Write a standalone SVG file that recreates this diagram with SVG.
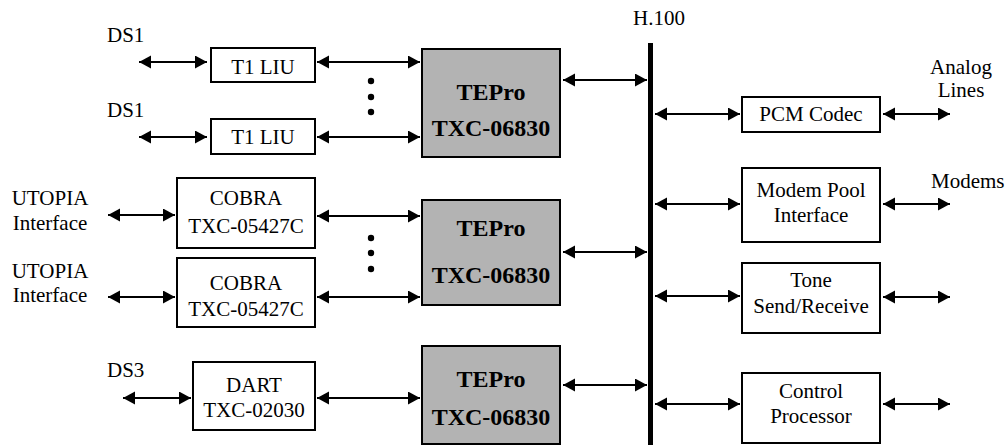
<svg xmlns="http://www.w3.org/2000/svg" width="1007" height="445" viewBox="0 0 1007 445">
<style>
.box{fill:#fff;stroke:#000;stroke-width:2}
.chip{fill:#b3b3b3;stroke:#000;stroke-width:2}
text{font-family:"Liberation Serif","Times New Roman",serif;font-size:21px;fill:#000}
.c{text-anchor:middle}
.b{font-weight:bold;font-size:24px}
.ln{stroke:#000;stroke-width:2;fill:none;marker-start:url(#ah);marker-end:url(#ah)}
</style>
<defs>
<marker id="ah" markerUnits="userSpaceOnUse" markerWidth="14" markerHeight="14" refX="12" refY="6.5" orient="auto-start-reverse">
<path d="M0,0 L12,6.5 L0,13 z" fill="#000"/>
</marker>
</defs>
<rect width="1007" height="445" fill="#fff"/>
<g id="labels">
<text x="107" y="42">DS1</text>
<text x="107" y="117">DS1</text>
<text x="50" y="205" class="c">UTOPIA</text>
<text x="50" y="230" class="c">Interface</text>
<text x="50" y="278" class="c">UTOPIA</text>
<text x="50" y="302" class="c">Interface</text>
<text x="107" y="377">DS3</text>
<text x="659" y="25" class="c">H.100</text>
<text x="961" y="74" class="c">Analog</text>
<text x="961" y="97" class="c">Lines</text>
<text x="931" y="188">Modems</text>
</g>
<g id="bus"><rect x="648" y="43" width="5" height="402" fill="#000"/></g>
<g id="t1liu1"><rect class="box" x="211" y="48" width="104" height="34"/><text class="c" x="263" y="74">T1 LIU</text></g>
<g id="t1liu2"><rect class="box" x="211" y="119" width="104" height="35"/><text class="c" x="263" y="144">T1 LIU</text></g>
<g id="cobra1"><rect class="box" x="177" y="178" width="138" height="70"/><text class="c" x="246" y="205">COBRA</text><text class="c" x="246" y="233">TXC-05427C</text></g>
<g id="cobra2"><rect class="box" x="177" y="258" width="138" height="69"/><text class="c" x="246" y="290">COBRA</text><text class="c" x="246" y="316">TXC-05427C</text></g>
<g id="dart"><rect class="box" x="193" y="362" width="122" height="68"/><text class="c" x="254" y="392">DART</text><text class="c" x="254" y="417">TXC-02030</text></g>
<g id="tepro1"><rect class="chip" x="422" y="49" width="138" height="108"/><text class="c b" x="491" y="100">TEPro</text><text class="c b" x="491" y="136">TXC-06830</text></g>
<g id="tepro2"><rect class="chip" x="422" y="200" width="138" height="105"/><text class="c b" x="491" y="236">TEPro</text><text class="c b" x="491" y="283">TXC-06830</text></g>
<g id="tepro3"><rect class="chip" x="422" y="346" width="138" height="98"/><text class="c b" x="491" y="387">TEPro</text><text class="c b" x="491" y="425">TXC-06830</text></g>
<g id="pcm"><rect class="box" x="742" y="97" width="138" height="35"/><text class="c" x="811" y="121">PCM Codec</text></g>
<g id="modem"><rect class="box" x="742" y="168" width="138" height="74"/><text class="c" x="811" y="197">Modem Pool</text><text class="c" x="811" y="222">Interface</text></g>
<g id="tone"><rect class="box" x="742" y="263" width="138" height="70"/><text class="c" x="811" y="287">Tone</text><text class="c" x="811" y="313">Send/Receive</text></g>
<g id="control"><rect class="box" x="742" y="373" width="138" height="70"/><text class="c" x="811" y="398">Control</text><text class="c" x="811" y="423">Processor</text></g>
<g id="dots" fill="#000">
<circle cx="371" cy="81" r="3.2"/><circle cx="371" cy="97" r="3.2"/><circle cx="371" cy="112" r="3.2"/>
<circle cx="371" cy="238" r="3.2"/><circle cx="371" cy="253" r="3.2"/><circle cx="371" cy="269" r="3.2"/>
</g>
<g id="connectors">
<line class="ln" x1="139" y1="62" x2="207" y2="62"/>
<line class="ln" x1="317" y1="62" x2="420" y2="62"/>
<line class="ln" x1="139" y1="137" x2="207" y2="137"/>
<line class="ln" x1="317" y1="137" x2="420" y2="137"/>
<line class="ln" x1="108" y1="215" x2="175" y2="215"/>
<line class="ln" x1="317" y1="216" x2="420" y2="216"/>
<line class="ln" x1="108" y1="297" x2="175" y2="297"/>
<line class="ln" x1="317" y1="297" x2="420" y2="297"/>
<line class="ln" x1="123" y1="398" x2="191" y2="398"/>
<line class="ln" x1="317" y1="398" x2="420" y2="398"/>
<line class="ln" x1="563" y1="80" x2="647" y2="80"/>
<line class="ln" x1="563" y1="252" x2="647" y2="252"/>
<line class="ln" x1="563" y1="385" x2="647" y2="385"/>
<line class="ln" x1="655" y1="114" x2="740" y2="114"/>
<line class="ln" x1="655" y1="204" x2="740" y2="204"/>
<line class="ln" x1="655" y1="296" x2="740" y2="296"/>
<line class="ln" x1="655" y1="404" x2="740" y2="404"/>
<line class="ln" x1="883" y1="114" x2="950" y2="114"/>
<line class="ln" x1="883" y1="204" x2="950" y2="204"/>
<line class="ln" x1="883" y1="297" x2="950" y2="297"/>
<line class="ln" x1="883" y1="404" x2="950" y2="404"/>
</g>
</svg>
